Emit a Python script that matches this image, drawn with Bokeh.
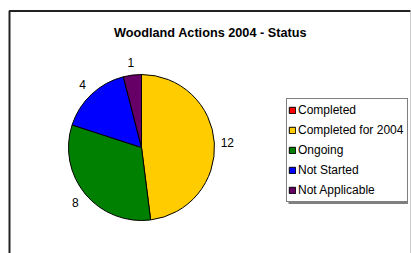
import math
from bokeh.plotting import figure
from bokeh.models import ColumnDataSource, Range1d, Legend, LegendItem
from bokeh.core.properties import value
from bokeh.embed import file_html
from bokeh.resources import INLINE

# ---- data ----
categories = ["Completed", "Completed for 2004", "Ongoing", "Not Started", "Not Applicable"]
counts = [0, 12, 8, 4, 1]
colors = ["#FF0000", "#FFCC00", "#008000", "#0000FF", "#660066"]
title_text = "Woodland Actions 2004 - Status"

W, H = 411, 253
FONT = "Liberation Sans"

p = figure(width=W, height=H, output_backend="svg", toolbar_location=None,
           x_range=Range1d(0, W), y_range=Range1d(0, H),
           x_axis_type=None, y_axis_type=None, min_border=0,
           background_fill_color="white", border_fill_color="white",
           outline_line_color=None)
p.grid.visible = False

# chart-area frame (open at the bottom, as in the cropped original)
p.line(x=[9, 9, 410], y=[-5, 242.5, 242.5], line_color="#222222", line_width=2)
p.line(x=[410.5, 410.5], y=[242.5, -5], line_color="#999999", line_width=1)

# pie geometry (data units == pixels)
cx, cy, rad = 141, 106, 73
total = sum(counts)
starts, ends, mids, cats, cols, vals = [], [], [], [], [], []
cum = 0
for c, v, col in zip(categories, counts, colors):
    if v > 0:
        a0 = math.pi / 2 - 2 * math.pi * cum / total
        a1 = math.pi / 2 - 2 * math.pi * (cum + v) / total
        starts.append(a0)
        ends.append(a1)
        mids.append((a0 + a1) / 2)
        cats.append(c)
        cols.append(col)
        vals.append(v)
    cum += v

src = ColumnDataSource(dict(cat=cats, val=vals, start=starts, end=ends, color=cols))
p.wedge(x=cx, y=cy, radius=rad, start_angle="start", end_angle="end",
        direction="clock", fill_color="color", line_color="black", line_width=1,
        source=src)

# value labels outside slices
R = 86
lsrc = ColumnDataSource(dict(
    x=[cx + R * math.cos(m) for m in mids],
    y=[cy + R * math.sin(m) for m in mids],
    t=[str(v) for v in vals]))
p.text(x="x", y="y", text="t", source=lsrc, text_align="center",
       text_baseline="middle", text_font=value(FONT), text_font_size="12px",
       text_color="black")

# title
p.text(x=[210], y=[220.5], text=[title_text], text_align="center",
       text_baseline="alphabetic", text_font=value(FONT), text_font_style="bold",
       text_font_size="12.7px", text_color="black")

# legend shadow
p.quad(left=[288], right=[407.5], top=[151], bottom=[49.5],
       fill_color="#808080", line_color=None)

nan = float("nan")
items = []
for c, col in zip(categories, colors):
    r = p.quad(left=[nan], right=[nan], top=[nan], bottom=[nan], fill_color=col,
               line_color="black", line_width=1)
    items.append(LegendItem(label=c, renderers=[r]))

legend = Legend(items=items, location=(286, 51), margin=0, padding=1, spacing=0,
                glyph_width=8, glyph_height=8, label_standoff=2,
                label_width=108, label_height=20,
                label_text_font=FONT, label_text_font_size="12px",
                label_text_color="black",
                border_line_color="black", border_line_width=1,
                background_fill_color="white", background_fill_alpha=1.0)
p.add_layout(legend, "center")

open("out.html", "w").write(file_html(p, INLINE))
